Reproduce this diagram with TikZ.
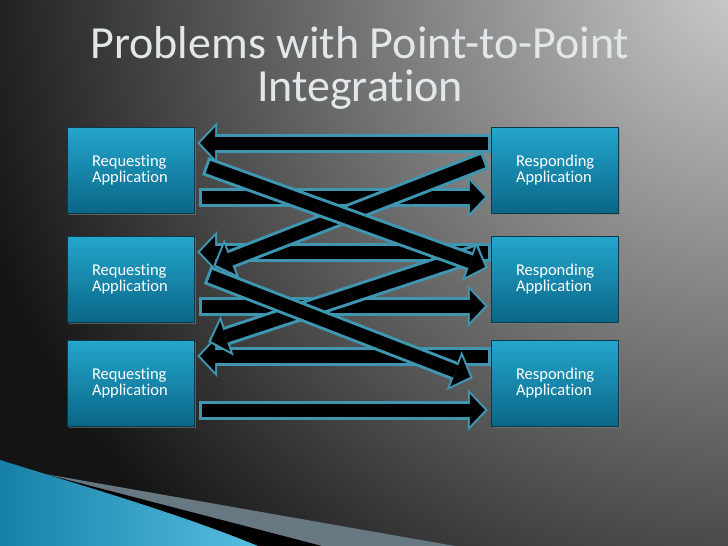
\documentclass[tikz,border=0pt]{standalone}
\usepackage{fontspec}
\setmainfont{Carlito}[Ligatures=NoCommon]
\usetikzlibrary{arrows.meta,shadows,positioning}
\definecolor{boxtop}{RGB}{36,166,206}
\definecolor{boxbot}{RGB}{10,102,134}
\definecolor{boxedge}{RGB}{10,58,74}
\definecolor{pipeedge}{RGB}{62,150,176}
\definecolor{bglight}{RGB}{210,210,210}
\definecolor{bgdark}{RGB}{20,20,20}
\definecolor{titlegray}{RGB}{226,232,234}
\definecolor{wedgedark}{RGB}{22,128,168}
\definecolor{wedgelight}{RGB}{86,190,224}
\definecolor{stripe}{RGB}{104,120,130}
\begin{document}
\begin{tikzpicture}[
    x=1pt, y=-1pt,
    app/.style={shape=rectangle, draw=boxedge, top color=boxtop, bottom color=boxbot,
      minimum width=127pt, minimum height=86pt, text width=77pt, inner xsep=25pt,
      align=left, text=white, font=\fontsize{16.5}{15.5}\selectfont,
      drop shadow={shadow xshift=2pt, shadow yshift=-2pt, opacity=0.6}},
    pipe/.style={draw=black, line width=13pt, shorten <=3pt, shorten >=3pt,
      -{Triangle[length=15pt,width=32pt,line width=0pt]},
      preaction={draw=pipeedge, line width=19pt, shorten <=0pt, shorten >=0pt,
        -{Triangle[length=20pt,width=42pt,line width=0pt]}}}
  ]
  \useasboundingbox (0,0) rectangle (728,546);
  \fill[bgdark] (0,0) rectangle (728,546);
  \begin{scope}
    \clip (0,0) rectangle (728,546);
    \shade[inner color=bglight, outer color=bgdark] (760,-40) circle (820pt);
  \end{scope}
  \fill[stripe] (45,474) -- (455,546) -- (0,546) -- cycle;
  \fill[black] (45,474) -- (322,546) -- (0,546) -- cycle;
  \shade[left color=wedgedark, right color=wedgelight]
    (0,460) .. controls (90,488) and (180,514) .. (258,546) -- (0,546) -- cycle;

  \node[text=titlegray, align=center, font=\fontsize{46}{43}\selectfont] (title) at (360,68)
    {Problems with Point-to-Point\\Integration};

  \node[app] (req1) at (130.5,170) {Requesting\\Application};
  \node[app] (req2) at (130.5,279) {Requesting\\Application};
  \node[app] (req3) at (130.5,383) {Requesting\\Application};
  \node[app] (res1) at (554.5,170) {Responding\\Application};
  \node[app] (res2) at (554.5,279) {Responding\\Application};
  \node[app] (res3) at (554.5,383) {Responding\\Application};

  \foreach \r in {1,2,3}{
    \draw[pipe] ([yshift=27pt]res\r.west) -- ([shift={(3pt,27pt)}]req\r.east);
    \draw[pipe] ([shift={(5pt,-27pt)}]req\r.east) -- ([shift={(-3pt,-27pt)}]res\r.west);
  }
  \draw[pipe] ([shift={(-5pt,10pt)}]res1.west) -- ([shift={(19pt,13pt)}]req2.east);
  \draw[pipe] ([shift={(-10pt,27pt)}]res2.west) -- ([shift={(14pt,41pt)}]req3.east);
  \draw[pipe] ([shift={(11pt,4pt)}]req1.east) -- ([shift={(-3pt,11pt)}]res2.west);
  \draw[pipe] ([shift={(13pt,4pt)}]req2.east) -- ([shift={(-18pt,5pt)}]res3.west);
\end{tikzpicture}
\end{document}
